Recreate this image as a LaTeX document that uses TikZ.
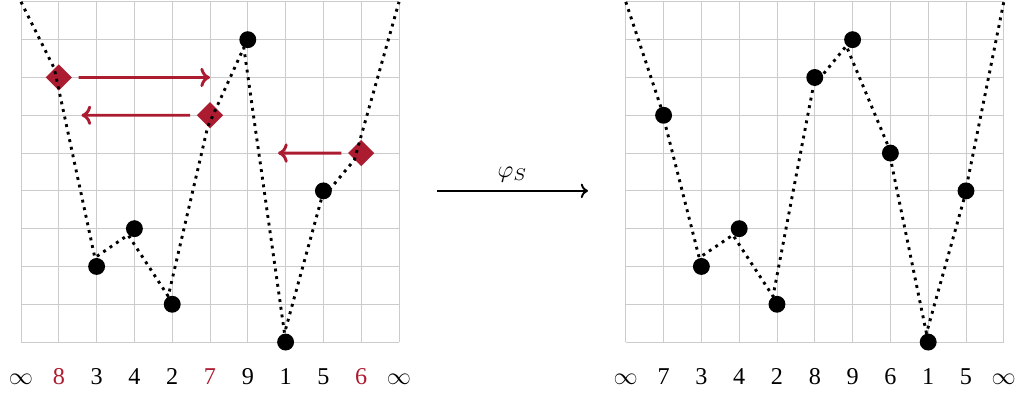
\documentclass[tikz,border=0pt]{standalone}
\usepackage{fontspec}
\setmainfont{Liberation Serif}
\usetikzlibrary{arrows.meta,calc,shapes.geometric}
\definecolor{swp}{RGB}{172,28,48}

\tikzset{
  pt/.style={circle,fill=black,inner sep=0pt,minimum size=7pt},
  moved/.style={diamond,fill=swp,inner sep=0pt,minimum size=11pt},
  trail/.style={line width=1.2pt,dotted},
  lbl/.style={anchor=base},
  swap/.style={-{To[length=4pt,width=8pt]},swp,line width=1.2pt},
}

\begin{document}
\begin{tikzpicture}[scale=0.55]
  \useasboundingbox (-0.556,-1.35) rectangle (26.35,9.05);
  % before
  \draw[gray!40] (0,0) grid (10,9);
  \coordinate (la) at (0,9); \coordinate (lb) at (10,9);
  \foreach \v/\s/\c [count=\x] in {8/moved/swp,3/pt/black,4/pt/black,2/pt/black,7/moved/swp,9/pt/black,1/pt/black,5/pt/black,6/moved/swp} {
    \node[\s] (l\x) at (\x,\v-1) {};
    \node[lbl,text=\c] (ln\x) at (\x,-1.11) {\v};
  }
  \node[lbl] (lna) at (0,-1.11) {$\infty$}; \node[lbl] (lnb) at (10,-1.11) {$\infty$};
  \draw[trail] (la) \foreach \x in {1,...,9} {-- (l\x)} -- (lb);
  \draw[swap,shorten <=2.5pt] (l1) -- (l5 |- l1);
  \draw[swap,shorten <=2.5pt] (l5) -- ($(l1 |- l5)+(0.6,0)$);
  \draw[swap,shorten <=2.5pt] (l9) -- ($(l7 |- l9)+(-0.2,0)$);
  % the map
  \coordinate (mfrom) at (11,4); \coordinate (mto) at (15,4);
  \draw[-{To[length=3pt,width=6pt]},line width=0.8pt] (mfrom) -- node[above] {$\varphi_S$} (mto);
  % after
  \begin{scope}[shift={(16,0)}]
    \draw[gray!40] (0,0) grid (10,9);
    \coordinate (ra) at (0,9); \coordinate (rb) at (10,9);
    \foreach \v [count=\x] in {7,3,4,2,8,9,6,1,5} {
      \node[pt] (r\x) at (\x,\v-1) {};
      \node[lbl] (rn\x) at (\x,-1.11) {\v};
    }
    \node[lbl] (rna) at (0,-1.11) {$\infty$}; \node[lbl] (rnb) at (10,-1.11) {$\infty$};
    \draw[trail] (ra) \foreach \x in {1,...,9} {-- (r\x)} -- (rb);
  \end{scope}
\end{tikzpicture}
\end{document}
